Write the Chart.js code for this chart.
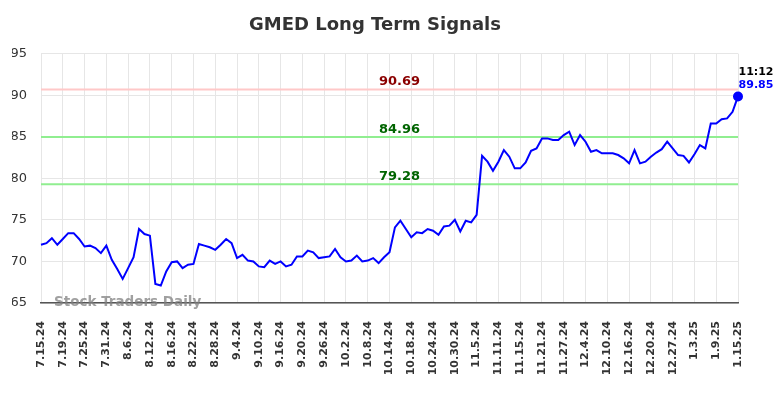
<!DOCTYPE html>
<html>
<head>
<meta charset="utf-8">
<script src="https://cdn.jsdelivr.net/npm/chart.js@4"></script>
<style>
  html, body { margin: 0; padding: 0; background: #fff; }
  #wrap { width: 784px; height: 398px; }
</style>
</head>
<body>
<div id="wrap"><canvas id="signalChart" width="784" height="398"></canvas></div>
<script>
const dates = [
  '7.15.24','7.16.24','7.17.24','7.18.24','7.19.24','7.22.24','7.23.24','7.24.24','7.25.24','7.26.24','7.29.24','7.30.24','7.31.24',
  '8.1.24','8.2.24','8.5.24','8.6.24','8.7.24','8.8.24','8.9.24','8.12.24','8.13.24','8.14.24','8.15.24','8.16.24','8.19.24','8.20.24','8.21.24','8.22.24','8.23.24','8.26.24','8.27.24','8.28.24','8.29.24','8.30.24',
  '9.3.24','9.4.24','9.5.24','9.6.24','9.9.24','9.10.24','9.11.24','9.12.24','9.13.24','9.16.24','9.17.24','9.18.24','9.19.24','9.20.24','9.23.24','9.24.24','9.25.24','9.26.24','9.27.24','9.30.24',
  '10.1.24','10.2.24','10.3.24','10.4.24','10.7.24','10.8.24','10.9.24','10.10.24','10.11.24','10.14.24','10.15.24','10.16.24','10.17.24','10.18.24','10.21.24','10.22.24','10.23.24','10.24.24','10.25.24','10.28.24','10.29.24','10.30.24','10.31.24',
  '11.1.24','11.4.24','11.5.24','11.6.24','11.7.24','11.8.24','11.11.24','11.12.24','11.13.24','11.14.24','11.15.24','11.18.24','11.19.24','11.20.24','11.21.24','11.22.24','11.25.24','11.26.24','11.27.24','11.29.24',
  '12.2.24','12.3.24','12.4.24','12.5.24','12.6.24','12.9.24','12.10.24','12.11.24','12.12.24','12.13.24','12.16.24','12.17.24','12.18.24','12.19.24','12.20.24','12.23.24','12.24.24','12.26.24','12.27.24','12.30.24','12.31.24',
  '1.2.25','1.3.25','1.6.25','1.7.25','1.8.25','1.9.25','1.10.25','1.13.25','1.14.25','1.15.25'
]

const closes = [
  72.0, 72.2, 72.8, 72.0, 72.7, 73.4, 73.4, 72.7, 71.8, 71.9, 71.6, 71.0, 71.9,
  70.2, 69.1, 67.9, 69.2, 70.5, 73.9, 73.3, 73.1, 67.3, 67.1, 68.8, 69.9, 70.0, 69.2, 69.6, 69.7, 72.1, 71.9, 71.7, 71.4, 72.0, 72.7,
  72.2, 70.4, 70.8, 70.1, 70.0, 69.4, 69.3, 70.1, 69.7, 70.0, 69.4, 69.6, 70.6, 70.6, 71.3, 71.1, 70.4, 70.5, 70.6, 71.5,
  70.5, 70.0, 70.1, 70.7, 70.0, 70.1, 70.4, 69.8, 70.5, 71.1, 74.1, 74.9, 73.9, 72.9, 73.5, 73.4, 73.9, 73.7, 73.2, 74.2, 74.3, 75.0, 73.6,
  74.9, 74.7, 75.6, 82.7, 82.0, 80.9, 82.0, 83.4, 82.6, 81.2, 81.2, 81.9, 83.3, 83.6, 84.8, 84.8, 84.6, 84.6, 85.2, 85.6,
  84.0, 85.2, 84.4, 83.2, 83.4, 83.0, 83.0, 83.0, 82.8, 82.4, 81.8, 83.4, 81.8, 82.0, 82.6, 83.1, 83.5, 84.4, 83.6, 82.8, 82.7,
  81.9, 82.9, 84.0, 83.6, 86.6, 86.6, 87.1, 87.2, 88.0, 89.85
]

const resistance = 90.69
const supports = [84.96, 79.28]
const yTicks = { min: 65, max: 95, step: 5 }
const lastTime = '11:12'

const font = 'DejaVu Sans'

// signal lines, labels and watermark drawn on top of the scales
const signalPlugin = {
  id: 'signals',
  beforeDatasetsDraw(chart) {
    const { ctx, chartArea, scales } = chart
    const labelX = (chartArea.left + chartArea.right) / 2 + 10
    const lines = [{ v: resistance, line: '#ffc8c8', text: '#8b0000' }]
      .concat(supports.map(v => ({ v: v, line: '#90ee90', text: '#006400' })))
    ctx.save()
    lines.forEach(l => {
      const y = scales.y.getPixelForValue(l.v)
      ctx.strokeStyle = l.line
      ctx.lineWidth = 2
      ctx.beginPath()
      ctx.moveTo(chartArea.left, y)
      ctx.lineTo(chartArea.right, y)
      ctx.stroke()
      ctx.fillStyle = l.text
      ctx.font = 'bold 13px ' + font
      ctx.textAlign = 'center'
      ctx.textBaseline = 'alphabetic'
      ctx.fillText(l.v.toFixed(2), labelX, y - 4)
    })
    ctx.restore()
  },
  afterDraw(chart) {
    const { ctx, chartArea, scales } = chart
    const last = closes.length - 1
    const px = scales.x.getPixelForValue(last)
    const py = scales.y.getPixelForValue(closes[last])
    ctx.save()
    ctx.font = 'bold 11px ' + font
    ctx.textAlign = 'center'
    ctx.textBaseline = 'middle'
    ctx.fillStyle = '#000'
    ctx.fillText(lastTime, px + 18, py - 24)
    ctx.fillStyle = '#0000ff'
    ctx.fillText(closes[last].toFixed(2), px + 18, py - 11)

    ctx.font = 'bold 13.5px ' + font
    ctx.textAlign = 'left'
    ctx.fillStyle = 'rgba(128,128,128,0.75)'
    ctx.fillText('Stock Traders Daily', chartArea.left + 13, chartArea.bottom - 0.5)
    ctx.restore()
  }
}

new Chart(document.getElementById('signalChart').getContext('2d'), {
  type: 'line',
  data: {
    labels: dates,
    datasets: [{
      data: closes,
      borderColor: '#0000ff',
      backgroundColor: '#0000ff',
      borderWidth: 2,
      tension: 0,
      pointRadius: ctx => ctx.dataIndex === closes.length - 1 ? 4 : 0,
      pointHoverRadius: 0
    }]
  },
  options: {
    responsive: false,
    animation: false,
    events: [],
    layout: { padding: { left: 12, right: 46, top: 0, bottom: 0 } },
    plugins: {
      legend: { display: false },
      tooltip: { enabled: false },
      title: {
        display: true,
        text: 'GMED Long Term Signals',
        color: '#333',
        font: { family: font, size: 18, weight: 'bold' },
        padding: { top: 15, bottom: 17 }
      }
    },
    scales: {
      x: {
        afterFit: axis => { axis.height = 95 },
        afterBuildTicks: axis => {
          axis.ticks = axis.ticks.filter(t => t.value % 4 === 0)
        },
        grid: { color: '#e6e6e6', drawTicks: false },
        border: { color: '#555', width: 1.5 },
        ticks: {
          autoSkip: false,
          maxRotation: 90,
          minRotation: 90,
          padding: 18,
          color: '#333',
          font: { family: font, size: 11, weight: 'bold' },
          callback: v => dates[v]
        }
      },
      y: {
        min: yTicks.min,
        max: yTicks.max,
        afterFit: axis => { axis.width = 29 },
        grid: { color: '#e6e6e6', drawTicks: false },
        border: { display: false },
        ticks: {
          stepSize: yTicks.step,
          padding: 14,
          color: '#333',
          font: { family: font, size: 13 }
        }
      }
    }
  },
  plugins: [signalPlugin]
})
</script>
</body>
</html>
